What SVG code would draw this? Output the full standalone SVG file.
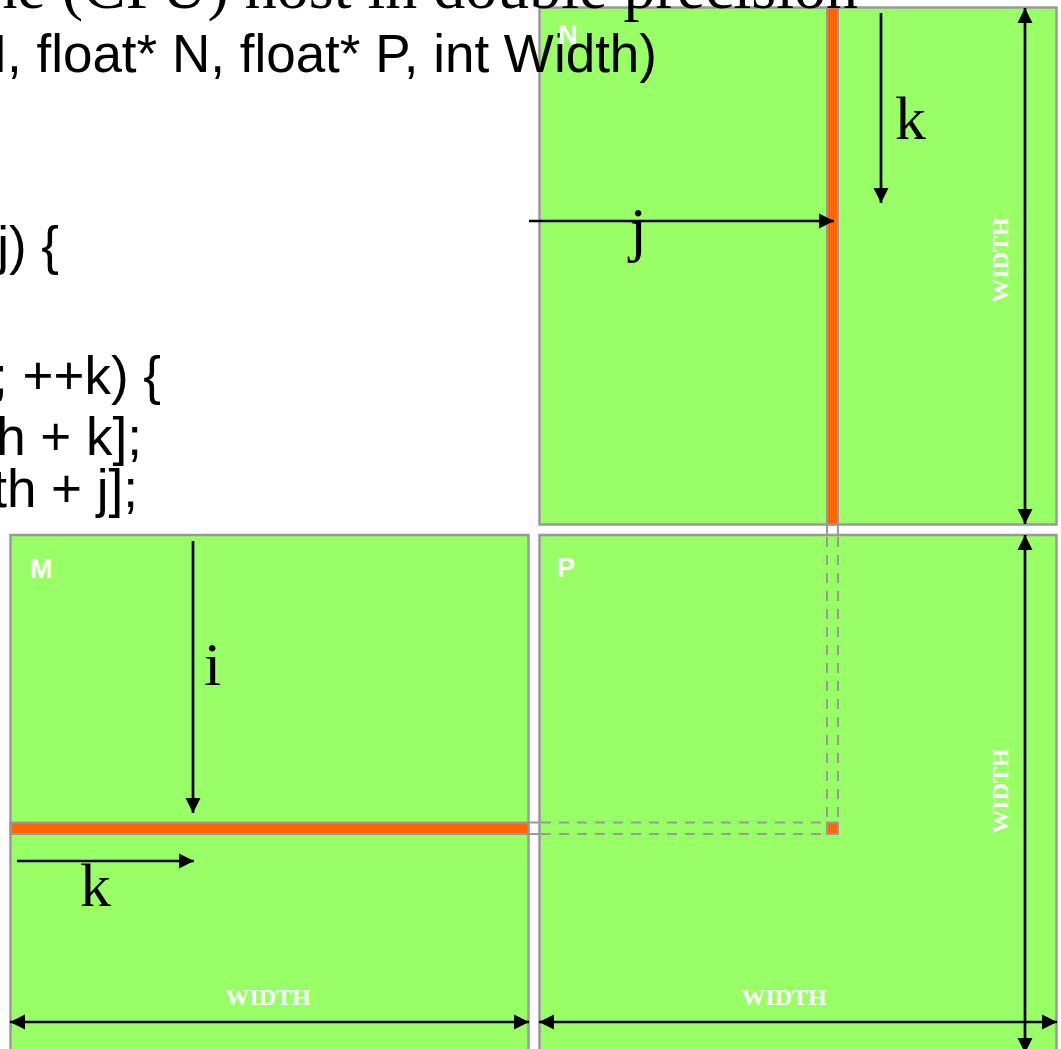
<svg xmlns="http://www.w3.org/2000/svg" width="1061" height="1049" viewBox="0 0 1061 1049">
<defs>
<style>
.mat{fill:#99FF66;stroke:#999999;stroke-width:2.5}
.strip{fill:#FF6600;stroke:#999999;stroke-width:2}
.dash{stroke:#999999;stroke-width:2;stroke-dasharray:10 8;fill:none}
.gap{stroke:#999999;stroke-width:2;fill:none}
.code{font-family:"Liberation Sans",Arial,sans-serif;font-size:53px;fill:#000}
.cmt{font-family:"Liberation Serif","Times New Roman",serif;font-size:64px;fill:#000}
.var{font-family:"Liberation Serif","Times New Roman",serif;font-size:62px;fill:#000}
.wid{font-family:"Liberation Serif","Times New Roman",serif;font-size:24px;font-weight:bold;fill:#fff;text-anchor:middle}
.name{font-family:"Liberation Sans",Arial,sans-serif;font-size:27px;font-weight:bold;fill:#fff}
.arr{stroke:#000;stroke-width:2.7;fill:none}
</style>
<marker id="ah" viewBox="0 0 10 10" refX="10" refY="5" markerWidth="5.6" markerHeight="5.8" markerUnits="strokeWidth" orient="auto-start-reverse">
<path d="M0,0 L10,5 L0,10 Z" fill="#000"/>
</marker>
</defs>
<rect width="1061" height="1049" fill="#fff"/>
<g id="matrix-N">
<rect class="mat" x="539.5" y="7.5" width="517" height="517"/>
<rect class="strip" x="827" y="7.5" width="11" height="517"/>
</g>
<g id="matrix-M">
<rect class="mat" x="10.5" y="535" width="518" height="530"/>
<rect class="strip" x="10.5" y="822.5" width="518" height="11.5"/>
</g>
<g id="matrix-P">
<rect class="mat" x="539.5" y="535" width="517" height="530"/>
<rect class="strip" x="827" y="822.5" width="11" height="11.5"/>
</g>
<g id="guides">
<path class="gap" d="M528.5,822.5 H539.5 M528.5,834 H539.5 M827,524.5 V535 M838,524.5 V535"/>
<path class="dash" d="M541,822.5 H827 M541,834 H827"/>
<path class="dash" d="M827,537 V822.5 M838,537 V822.5"/>
</g>
<g id="code">
<text class="cmt" x="858" y="8" text-anchor="end">the (CPU) host in double precision</text>
<text class="code" x="657" y="72" text-anchor="end">M, float* N, float* P, int Width)</text>
<text class="code" x="59" y="264" text-anchor="end">j) {</text>
<text class="code" x="161" y="394" text-anchor="end">; ++k) {</text>
<text class="code" x="142" y="455" text-anchor="end">h + k];</text>
<text class="code" x="138" y="507" text-anchor="end">th + j];</text>
</g>
<g id="connectors">
<line class="arr" x1="881" y1="13" x2="881" y2="203" marker-end="url(#ah)"/>
<line class="arr" x1="529" y1="221" x2="834" y2="221" marker-end="url(#ah)"/>
<line class="arr" x1="1025" y1="8" x2="1025" y2="524" marker-start="url(#ah)" marker-end="url(#ah)"/>
<line class="arr" x1="1025" y1="535" x2="1025" y2="1053" marker-start="url(#ah)" marker-end="url(#ah)"/>
<line class="arr" x1="10" y1="1022" x2="529" y2="1022" marker-start="url(#ah)" marker-end="url(#ah)"/>
<line class="arr" x1="539" y1="1022" x2="1057" y2="1022" marker-start="url(#ah)" marker-end="url(#ah)"/>
<line class="arr" x1="193" y1="541" x2="193" y2="813" marker-end="url(#ah)"/>
<line class="arr" x1="17" y1="861" x2="194" y2="861" marker-end="url(#ah)"/>
</g>
<g id="labels">
<text class="var" x="895" y="139">k</text>
<text class="var" x="638" y="250" text-anchor="middle">j</text>
<text class="var" x="204" y="685">i</text>
<text class="var" x="80" y="906">k</text>
<text class="wid" x="268" y="1005">WIDTH</text>
<text class="wid" x="784" y="1005">WIDTH</text>
<text class="wid" transform="translate(1008,260) rotate(-90)">WIDTH</text>
<text class="wid" transform="translate(1008,791) rotate(-90)">WIDTH</text>
<text class="name" x="558" y="44">N</text>
<text class="name" x="30" y="578">M</text>
<text class="name" x="557" y="577">P</text>
</g>
</svg>
